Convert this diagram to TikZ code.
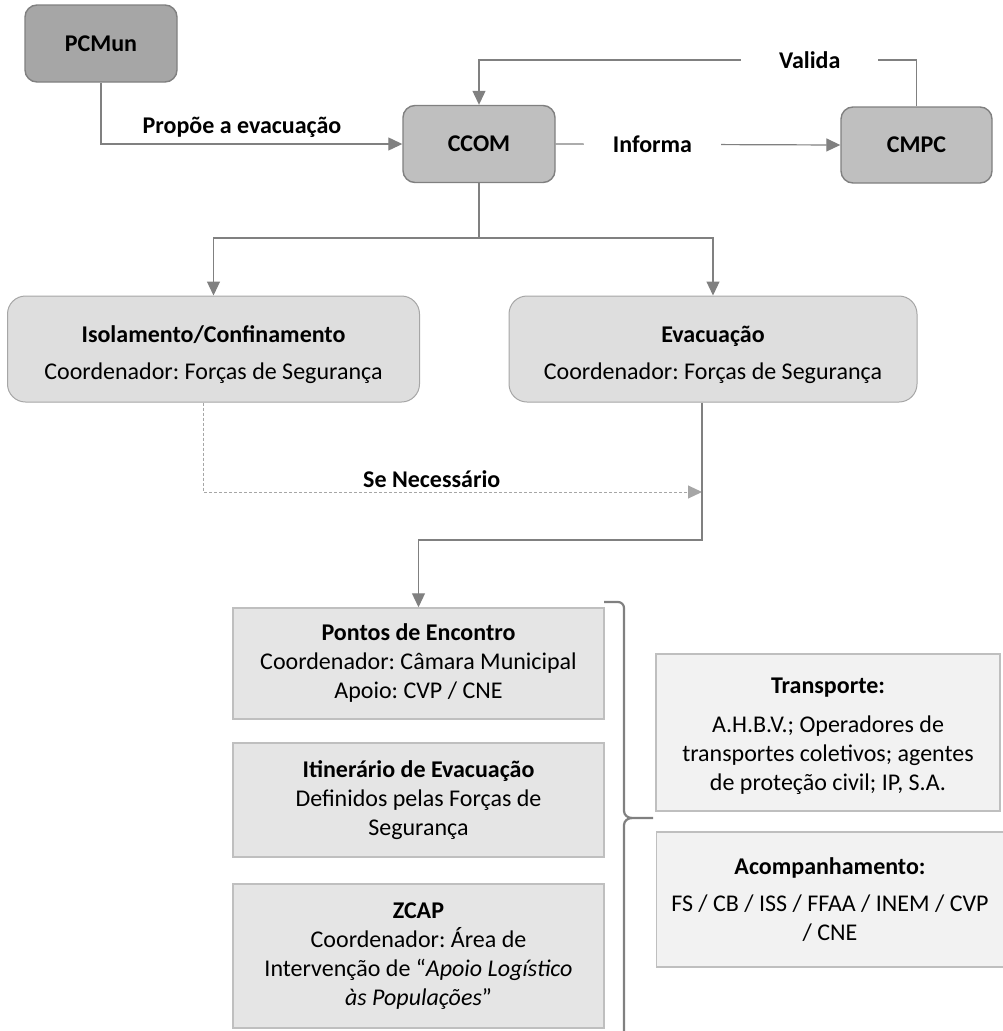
\documentclass[tikz,border=0pt]{standalone}
\usepackage{fontspec}
\setmainfont{Carlito}
\frenchspacing
\usetikzlibrary{arrows.meta}
\definecolor{lnc}{HTML}{808080}
\definecolor{dkfill}{HTML}{A6A6A6}
\definecolor{mdfill}{HTML}{BFBFBF}
\definecolor{topbd}{HTML}{808080}
\definecolor{midfill}{HTML}{DEDEDE}
\definecolor{midbd}{HTML}{A6A6A6}
\definecolor{lowfill}{HTML}{E5E5E5}
\definecolor{lowbd}{HTML}{BFBFBF}
\definecolor{rfill}{HTML}{F2F2F2}
\begin{document}
\begin{tikzpicture}[x=1pt,y=-1pt,
  every node/.style={font=\fontsize{24}{29}\selectfont, align=center},
  topbox/.style={draw=topbd, line width=1.4pt, rounded corners=12pt, minimum width=152pt, minimum height=77pt, font=\fontsize{24}{29}\selectfont\bfseries},
  midbox/.style={draw=midbd, fill=midfill, line width=1pt, rounded corners=18pt, minimum height=106pt},
  lowbox/.style={draw=lowbd, fill=lowfill, line width=1.5pt, minimum width=371pt},
  rbox/.style={draw=lowbd, fill=rfill, line width=1.5pt},
  conn/.style={draw=lnc, line width=1.2pt},
  arr/.style={conn, -{Triangle[length=14pt,width=13pt]}, color=lnc},
  dsh/.style={draw=midbd, line width=1pt, dash pattern=on 3pt off 2pt, -{Triangle[length=14pt,width=13pt]}, color=midbd},
  lbl/.style={inner sep=0pt, text=black, font=\fontsize{24}{29}\selectfont\bfseries},
  brace/.style={draw=lnc, line width=2.2pt}
]
\useasboundingbox (0,0) rectangle (1003,1031);

% top row
\node[topbox, fill=dkfill] (pcm) at (101,43.5) {PCMun};
\node[topbox, fill=mdfill] (ccom) at (479,144) {CCOM};
\node[topbox, fill=mdfill, minimum width=151pt, minimum height=76pt] (cmpc) at (916.5,145) {CMPC};

\draw[arr] (pcm.south) |- node[lbl, pos=0.734, yshift=17pt] {Propõe a evacuação} (ccom.west);
\draw[arr] (ccom.east) -- node[lbl, pos=0.34, fill=white, inner xsep=29pt, inner ysep=2pt] {Informa} (cmpc.west);

\coordinate (vr) at (916.5,60);
\coordinate (vl) at (479,60);
\draw[arr] (cmpc.north) -- (vr) -- node[lbl, pos=0.244, fill=white, inner xsep=38pt, inner ysep=2pt] {Valida} (vl) -- (ccom.north);

% middle row
\node[midbox, minimum width=412pt] (iso) at (213.5,349) {};
\node (isotxt) at ([yshift=-5.5pt]iso.center) {\textbf{Isolamento/Confinamento}\\[8pt]Coordenador: Forças de Segurança};
\node[midbox, minimum width=408pt] (evac) at (713,349) {};
\node (evactxt) at ([yshift=-5.5pt]evac.center) {\textbf{Evacuação}\\[8pt]Coordenador: Forças de Segurança};

\coordinate (split) at (479,238);
\draw[conn] (ccom.south) -- (split);
\draw[arr] (split) -| (iso.north);
\draw[arr] (split) -| (evac.north);

\coordinate (join) at (702,492);
\draw[dsh] ([xshift=-10pt]iso.south) |- node[lbl, pos=0.729, yshift=13pt] {Se Necessário} (join);

% lower left boxes
\node[lowbox, minimum height=111pt] (pontos) at (418.5,663.5) {\textbf{Pontos de Encontro}\\Coordenador: Câmara Municipal\\Apoio: CVP / CNE};
\node[lowbox, minimum height=114pt] (itin) at (418.5,800) {\textbf{Itinerário de Evacuação}\\Definidos pelas Forças de\\Segurança};
\node[lowbox, minimum height=144pt] (zcap) at (418.5,956) {\textbf{ZCAP}\\Coordenador: Área de\\Intervenção de “\textit{Apoio Logístico}\\\textit{às Populações}”};

\coordinate (bend) at (702,540);
\draw[arr] ([xshift=-11pt]evac.south) -- (bend) -| (pontos.north);

% right boxes
\node[rbox, minimum width=344pt, minimum height=157pt] (transp) at (828,732.5) {};
\node (transptxt) at ([yshift=-4pt]transp.center) {\textbf{Transporte:}\\[10pt]A.H.B.V.; Operadores de\\transportes coletivos; agentes\\de proteção civil; IP, S.A.};
\node[rbox, minimum width=347pt, minimum height=135pt] (acomp) at (830,899.5) {\textbf{Acompanhamento:}\\[8pt]FS / CB / ISS / FFAA / INEM / CVP\\/ CNE};

% brace
\coordinate (bt) at (604,602);
\coordinate (btip) at (653,818);
\draw[brace] (bt) -- (618,602) to[out=0,in=90] (624,608) -- (624,811) to[out=-90,in=180] (632,818) -- (btip);
\draw[brace] (632,818) to[out=180,in=90] (624,825) -- (624,1040);
\end{tikzpicture}
\end{document}
